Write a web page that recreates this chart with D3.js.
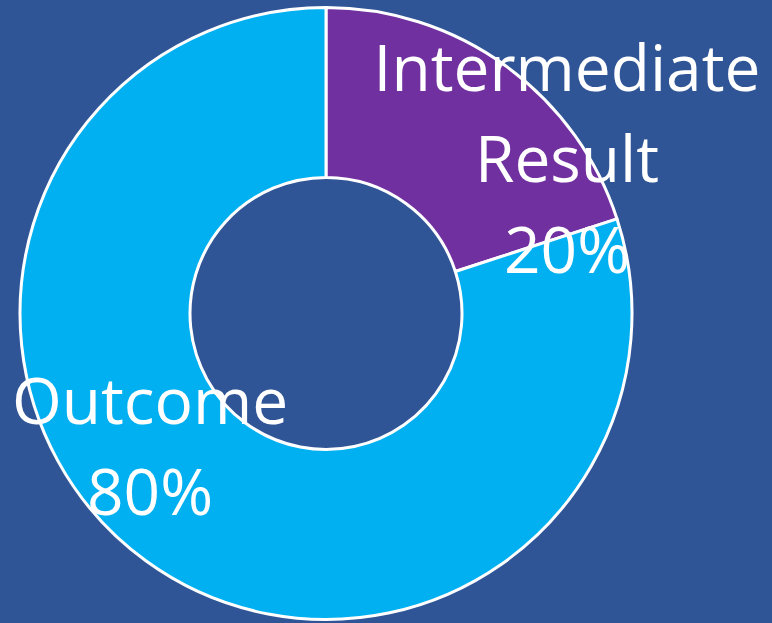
<!DOCTYPE html>
<html>
<head>
<meta charset="utf-8">
<script src="https://cdn.jsdelivr.net/npm/d3@7"></script>
<style>
  html, body { margin: 0; padding: 0; background: #2F5597; overflow: hidden; }
  text { font-family: "Open Sans", "Noto Sans", sans-serif; fill: #fff; }
</style>
</head>
<body>
<script>
var w = 772;
var h = 623;

// chart data
var categories = ["Intermediate Result", "Outcome"];
var values = [20, 80];
var colorsList = ["#7030A0", "#00B0F0"];
var labelLines = [["Intermediate", "Result", "20%"], ["Outcome", "80%"]];

var svg = d3.select('body')
            .append('svg')
            .attr('width', w)
            .attr('height', h);

var cx = 326, cy = 313.5;
var outerR = 306, innerR = 136;

var pie = d3.pie().sort(null).value(function(d) { return d; });
var arc = d3.arc().innerRadius(innerR).outerRadius(outerR);

var color = d3.scaleOrdinal().domain(categories).range(colorsList);

var g = svg.append('g').attr('transform', 'translate(' + cx + ',' + cy + ')');

var arcs = pie(values);

g.selectAll('path')
 .data(arcs)
 .enter()
 .append('path')
 .attr('d', arc)
 .attr('fill', function(d, i) { return color(categories[i]); })
 .attr('stroke', '#fff')
 .attr('stroke-width', 3)
 .attr('stroke-linejoin', 'round');

// label placement (manually positioned in the original)
var labelPos = [[241, -223], [-176, 110]];
var lineH = 91;

g.selectAll('text.lbl')
 .data(arcs)
 .enter()
 .append('text')
 .attr('class', 'lbl')
 .attr('text-anchor', 'middle')
 .attr('font-size', 64)
 .each(function(d, i) {
     var t = d3.select(this);
     labelLines[i].forEach(function(line, j) {
         t.append('tspan')
          .attr('x', labelPos[i][0])
          .attr('y', labelPos[i][1] + j * lineH)
          .text(line);
     });
 });
</script>
</body>
</html>
